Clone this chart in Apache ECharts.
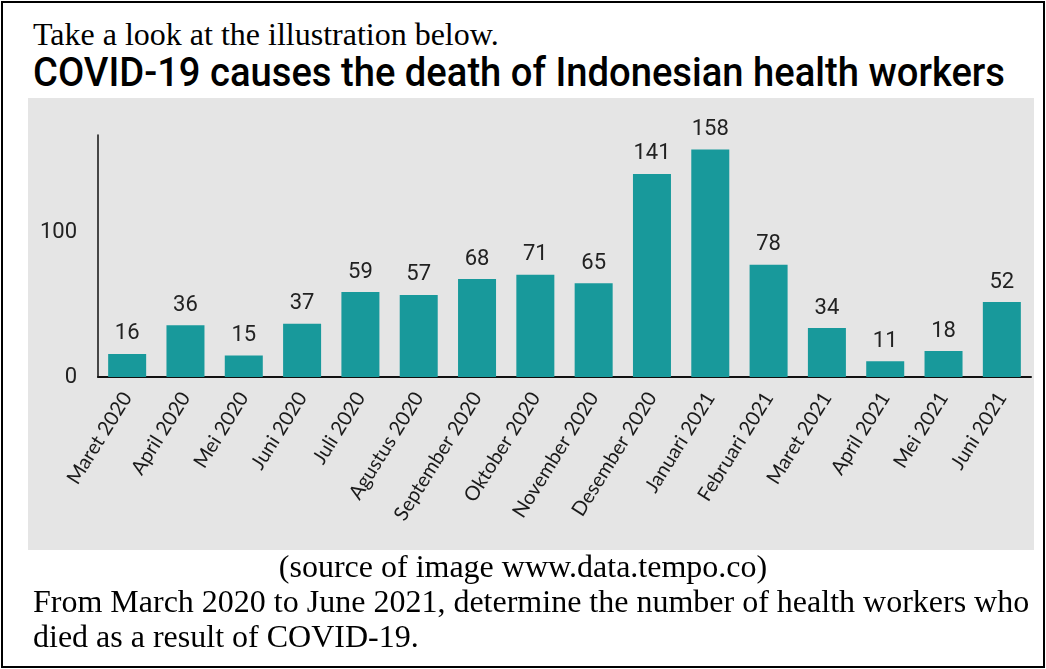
<!DOCTYPE html>
<html>
<head>
<meta charset="utf-8">
<script src="https://cdn.jsdelivr.net/npm/echarts@6/dist/echarts.min.js"></script>
<style>
  html, body { margin: 0; padding: 0; background: #fff; }
  body { width: 1046px; height: 669px; position: relative; overflow: hidden; }
  #frame { position: absolute; left: 1px; top: 1px; width: 1040px; height: 663px; border: 2px solid #000; }
  .serif { position: absolute; font-family: "Liberation Serif", "Times New Roman", serif; font-size: 32px; line-height: 32px; color: #000; white-space: nowrap; }
  #title { position: absolute; left: 33px; top: 52px; font-family: Roboto, "Noto Sans", sans-serif; font-weight: 500; font-size: 41px; line-height: 41px; color: #000; white-space: nowrap; transform-origin: 0 0; display: inline-block; }
  #chart { position: absolute; left: 28px; top: 98px; width: 1006px; height: 452px; }
</style>
</head>
<body>
<div id="frame"></div>
<div class="serif" style="left:33px; top:18px;">Take a look at the illustration below.</div>
<div id="title">COVID-19 causes the death of Indonesian health workers</div>
<div id="chart"></div>
<div class="serif" style="left:0; width:1046px; text-align:center; top:550px;">(source of image www.data.tempo.co)</div>
<div class="serif" style="left:33px; top:585px;">From March 2020 to June 2021, determine the number of health workers who</div>
<div class="serif" style="left:33px; top:620px;">died as a result of COVID-19.</div>
<script>
const categories = ['Maret 2020', 'April 2020', 'Mei 2020', 'Juni 2020', 'Juli 2020', 'Agustus 2020',
  'September 2020', 'Oktober 2020', 'November 2020', 'Desember 2020', 'Januari 2021',
  'Februari 2021', 'Maret 2021', 'April 2021', 'Mei 2021', 'Juni 2021'];
const deaths = [16, 36, 15, 37, 59, 57, 68, 71, 65, 141, 158, 78, 34, 11, 18, 52];
const yTicks = [0, 100];

// fit title width to the reference width
const t = document.getElementById('title');
const w = t.getBoundingClientRect().width;
t.style.transform = 'scaleX(' + (972 / w) + ')';

const chart = echarts.init(document.getElementById('chart'));
chart.setOption({
  backgroundColor: '#e5e5e5',
  animation: false,
  grid: { left: 70, right: 3, top: 37, bottom: 173 },
  xAxis: {
    type: 'category',
    data: categories,
    axisLine: { lineStyle: { color: '#111', width: 2 } },
    axisTick: { show: false },
    axisLabel: { interval: 0, rotate: 58, margin: 17, fontFamily: 'Lato, "Open Sans", sans-serif', fontSize: 20, color: '#1a1a1a' }
  },
  yAxis: {
    type: 'value',
    min: 0,
    max: 168,
    interval: 100,
    splitLine: { show: false },
    axisLine: { show: true, lineStyle: { color: '#111', width: 1.5 } },
    axisTick: { show: false },
    axisLabel: {
      margin: 21,
      fontFamily: '"Liberation Sans Narrow", Roboto, sans-serif',
      fontSize: 22,
      color: '#222',
      formatter: v => yTicks.includes(v) ? String(v) : ''
    }
  },
  series: [{
    type: 'bar',
    data: deaths,
    barWidth: 38,
    itemStyle: { color: '#18999b' },
    label: {
      show: true,
      position: 'top',
      distance: 9,
      fontFamily: '"Liberation Sans Narrow", Roboto, sans-serif',
      fontSize: 22,
      color: '#222'
    }
  }]
});
</script>
</body>
</html>
